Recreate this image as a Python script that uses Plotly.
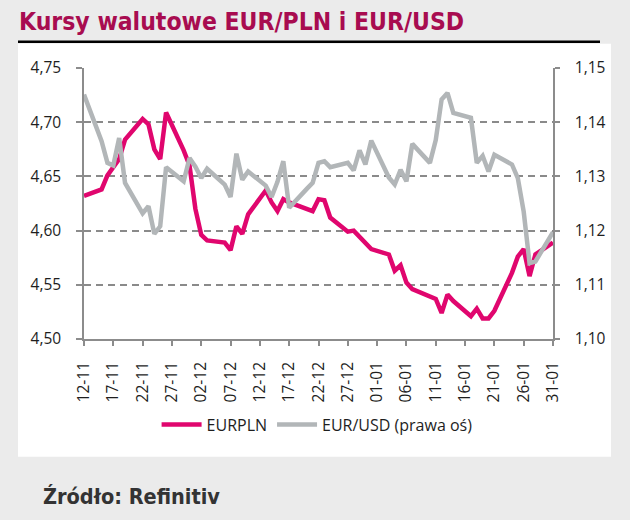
import plotly.graph_objects as go

dates = [
    "2021-11-12", "2021-11-15", "2021-11-16", "2021-11-17", "2021-11-18", "2021-11-19",
    "2021-11-22", "2021-11-23", "2021-11-24", "2021-11-25", "2021-11-26",
    "2021-11-29", "2021-11-30", "2021-12-01", "2021-12-02", "2021-12-03",
    "2021-12-06", "2021-12-07", "2021-12-08", "2021-12-09", "2021-12-10",
    "2021-12-13", "2021-12-14", "2021-12-15", "2021-12-16", "2021-12-17",
    "2021-12-20", "2021-12-21", "2021-12-22", "2021-12-23", "2021-12-24",
    "2021-12-27", "2021-12-28", "2021-12-29", "2021-12-30", "2021-12-31",
    "2022-01-03", "2022-01-04", "2022-01-05", "2022-01-06", "2022-01-07",
    "2022-01-10", "2022-01-11", "2022-01-12", "2022-01-13", "2022-01-14",
    "2022-01-17", "2022-01-18", "2022-01-19", "2022-01-20", "2022-01-21",
    "2022-01-24", "2022-01-25", "2022-01-26", "2022-01-27", "2022-01-28",
    "2022-01-31",
]

eurpln = [
    4.632, 4.638, 4.651, 4.658, 4.666, 4.684,
    4.703, 4.698, 4.675, 4.666, 4.709,
    4.674, 4.660, 4.620, 4.596, 4.591,
    4.589, 4.582, 4.604, 4.597, 4.615,
    4.637, 4.626, 4.618, 4.629, 4.626,
    4.620, 4.618, 4.629, 4.628, 4.612,
    4.599, 4.600, 4.594, 4.588, 4.583,
    4.578, 4.563, 4.568, 4.552, 4.546,
    4.540, 4.537, 4.524, 4.541, 4.535,
    4.521, 4.528, 4.519, 4.519, 4.526,
    4.561, 4.576, 4.583, 4.558, 4.578,
    4.589,
]

eurusd = [
    1.1451, 1.1365, 1.1325, 1.1320, 1.1371, 1.1288,
    1.1232, 1.1245, 1.1194, 1.1208, 1.1317,
    1.1291, 1.1334, 1.1318, 1.1297, 1.1314,
    1.1285, 1.1262, 1.1342, 1.1294, 1.1309,
    1.1283, 1.1262, 1.1290, 1.1328, 1.1242,
    1.1277, 1.1288, 1.1325, 1.1328, 1.1317,
    1.1325, 1.1311, 1.1348, 1.1322, 1.1366,
    1.1298, 1.1285, 1.1312, 1.1291, 1.1360,
    1.1325, 1.1367, 1.1442, 1.1454, 1.1417,
    1.1408, 1.1325, 1.1338, 1.1309, 1.1340,
    1.1322, 1.1297, 1.1235, 1.1140, 1.1143,
    1.1197,
]

tick_dates = [
    "2021-11-12", "2021-11-17", "2021-11-22", "2021-11-27", "2021-12-02",
    "2021-12-07", "2021-12-12", "2021-12-17", "2021-12-22", "2021-12-27",
    "2022-01-01", "2022-01-06", "2022-01-11", "2022-01-16", "2022-01-21",
    "2022-01-26", "2022-01-31",
]
tick_labels = [
    "12-11", "17-11", "22-11", "27-11", "02-12", "07-12", "12-12", "17-12",
    "22-12", "27-12", "01-01", "06-01", "11-01", "16-01", "21-01", "26-01", "31-01",
]

PINK = "#e0066e"
GRAY = "#b2b6b8"
AXIS = "#8c8c8c"
TXT = "#1e1e1e"
TICKFONT = dict(family="Open Sans", size=15.5, color=TXT)

fig = go.Figure()
fig.add_trace(go.Scatter(x=dates, y=eurpln, name="EURPLN", mode="lines",
                         line=dict(color=PINK, width=4.5)))
fig.add_trace(go.Scatter(x=dates, y=eurusd, name="EUR/USD (prawa oś)", mode="lines",
                         line=dict(color=GRAY, width=4.5), yaxis="y2"))

# plot area pixel frame: x 84..553, y 68..339
L, R, T, B = 84, 553, 68.3, 339.3
W, H = R - L, B - T
def px(x):
    return (x - L) / W
def py(y):
    return (B - y) / H

fig.update_layout(
    width=630, height=520,
    margin=dict(l=L, r=630 - R, t=T, b=520 - B, pad=0),
    paper_bgcolor="#ebebeb",
    plot_bgcolor="white",
    separators=", ",
    showlegend=True,
    legend=dict(orientation="h", x=0.497, xanchor="center", y=py(425), yanchor="middle",
                font=dict(family="Open Sans", size=16, color=TXT),
                bgcolor="rgba(0,0,0,0)", itemwidth=40, tracegroupgap=0),
    xaxis=dict(type="date", range=["2021-11-12", "2022-01-31"],
               tickvals=tick_dates, ticktext=tick_labels, tickangle=-90,
               tickfont=TICKFONT, ticks="outside", ticklen=5, tickcolor=AXIS, tickwidth=1.5,
               ticklabelstandoff=10,
               showline=True, linecolor=AXIS, linewidth=1.5, showgrid=False, zeroline=False),
    yaxis=dict(range=[4.50, 4.75], dtick=0.05, tick0=4.5, tickformat=".2f",
               tickfont=TICKFONT, ticks="outside", ticklen=6, tickcolor=AXIS, tickwidth=1.5,
               ticklabelstandoff=12,
               showline=True, linecolor=AXIS, linewidth=1.5,
               showgrid=True, gridcolor="#8a8a8a", gridwidth=1.5, griddash="7px,5px",
               zeroline=False),
    yaxis2=dict(range=[1.10, 1.15], dtick=0.01, tick0=1.10, tickformat=".2f",
                overlaying="y", side="right", anchor="x",
                tickfont=TICKFONT, ticks="outside", ticklen=5, tickcolor=AXIS, tickwidth=1.5,
                ticklabelstandoff=12,
                showline=True, linecolor=AXIS, linewidth=1.5, showgrid=False, zeroline=False),
)

# white panel and title rule
fig.add_shape(type="rect", xref="paper", yref="paper", layer="below",
              x0=px(18), x1=px(611), y0=py(457), y1=py(44),
              fillcolor="white", line=dict(width=0))
fig.add_shape(type="line", xref="paper", yref="paper",
              x0=px(18), x1=px(600), y0=py(42), y1=py(42),
              line=dict(color="black", width=2.5))

fig.add_annotation(text="<b>Kursy walutowe EUR/PLN i EUR/USD</b>", xref="paper", yref="paper",
                   x=px(17), y=py(22), xanchor="left", yanchor="middle", showarrow=False,
                   font=dict(family="DejaVu Sans Condensed", size=24.5, color="#a80c50"))
fig.add_annotation(text="<b>Źródło: Refinitiv</b>", xref="paper", yref="paper",
                   x=px(41), y=py(497), xanchor="left", yanchor="middle", showarrow=False,
                   font=dict(family="DejaVu Sans Condensed", size=21.5, color="#333333"))

fig.write_html("out.html")
